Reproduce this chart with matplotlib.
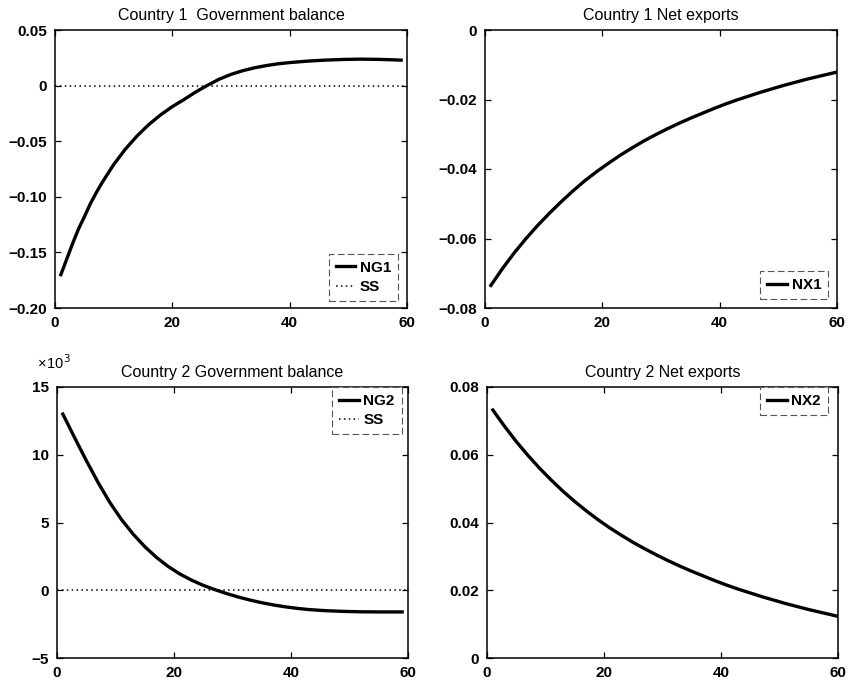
import matplotlib
matplotlib.use("Agg")
import matplotlib.pyplot as plt

plt.rcParams['font.family'] = ['Liberation Sans', 'DejaVu Sans']

# ---- data -------------------------------------------------------------
ng1_periods = [1, 2, 3, 4, 5, 6, 7, 8, 10, 12, 14, 16, 18, 20, 22, 24, 26,
               28, 30, 32, 34, 36, 38, 40, 43, 46, 49, 52, 55, 57, 59]
ng1_values = [-0.170, -0.156, -0.142, -0.129, -0.118, -0.1065, -0.0966,
              -0.0875, -0.0710, -0.0571, -0.0452, -0.0350, -0.0263, -0.0189,
              -0.0125, -0.0057, 0.0003, 0.0058, 0.0101, 0.0134, 0.0160,
              0.0180, 0.0196, 0.0207, 0.0220, 0.0229, 0.0235, 0.0238, 0.0236,
              0.0233, 0.0229]

nx1_periods = [1, 3, 5, 7, 9, 11, 13, 15, 17, 19, 21, 23, 25, 27, 29, 31, 33,
               35, 37, 39, 41, 43, 45, 47, 49, 51, 53, 55, 57, 59, 60]
nx1_values = [-0.0735, -0.0686, -0.0641, -0.0600, -0.0562, -0.0527, -0.0494,
              -0.0463, -0.0434, -0.0408, -0.0384, -0.0361, -0.0340, -0.0320,
              -0.0302, -0.0285, -0.0269, -0.0254, -0.0240, -0.0226, -0.0213,
              -0.0201, -0.0190, -0.0179, -0.0169, -0.0159, -0.0150, -0.0141,
              -0.0133, -0.0125, -0.0121]

ng2_periods = [1, 3, 5, 7, 9, 11, 13, 15, 17, 19, 21, 23, 25, 27, 29, 31, 33,
               35, 37, 39, 41, 43, 46, 49, 52, 55, 59]
ng2_values = [13.0, 11.27, 9.58, 7.97, 6.50, 5.23, 4.15, 3.22, 2.425, 1.755,
              1.20, 0.745, 0.365, 0.04, -0.245, -0.50, -0.725, -0.92, -1.085,
              -1.222, -1.334, -1.424, -1.51, -1.56, -1.59, -1.60, -1.60]

nx2_periods = [1, 3, 5, 7, 9, 11, 13, 15, 17, 19, 21, 23, 25, 27, 29, 31, 33,
               35, 37, 39, 41, 43, 45, 47, 49, 51, 53, 55, 57, 59, 60]
nx2_values = [0.0732, 0.0684, 0.0639, 0.0598, 0.0560, 0.0525, 0.0492, 0.0462,
              0.0434, 0.0408, 0.0384, 0.0362, 0.0341, 0.0322, 0.0304, 0.0287,
              0.0271, 0.0256, 0.0242, 0.0228, 0.0215, 0.0203, 0.0192, 0.0181,
              0.0171, 0.0161, 0.0152, 0.0143, 0.0135, 0.0127, 0.0123]

ss_level = 0.0

x_ticks = [0, 20, 40, 60]
ng1_yticks = [0.05, 0, -0.05, -0.10, -0.15, -0.20]
ng1_ylabels = ['0.05', '0', '\u22120.05', '\u22120.10', '\u22120.15', '\u22120.20']
nx1_yticks = [0, -0.02, -0.04, -0.06, -0.08]
nx1_ylabels = ['0', '\u22120.02', '\u22120.04', '\u22120.06', '\u22120.08']
ng2_yticks = [15, 10, 5, 0, -5]
ng2_ylabels = ['15', '10', '5', '0', '\u22125']
nx2_yticks = [0.08, 0.06, 0.04, 0.02, 0]
nx2_ylabels = ['0.08', '0.06', '0.04', '0.02', '0']

# ---- figure -----------------------------------------------------------
W, H = 848, 683
fig = plt.figure(figsize=(W / 100, H / 100), dpi=100)


def box(left, right, top, bottom):
    return [left / W, 1 - bottom / H, (right - left) / W, (bottom - top) / H]


ax_tl = fig.add_axes(box(55, 407, 30, 308))
ax_tr = fig.add_axes(box(485, 837, 30, 308))
ax_bl = fig.add_axes(box(57, 408, 387, 658))
ax_br = fig.add_axes(box(487, 838, 387, 658))

LW = 2.4
TICK_FONT = dict(fontsize=11, fontweight='bold')


def style(ax, title, yticks, ylabels, ylim):
    ax.set_xlim(0, 60)
    ax.set_ylim(*ylim)
    ax.set_xticks(x_ticks)
    ax.set_xticklabels([str(t) for t in x_ticks], **TICK_FONT)
    ax.set_yticks(yticks)
    ax.set_yticklabels(ylabels, **TICK_FONT)
    ax.tick_params(direction='in', top=True, right=True, length=4,
                   width=0.9, pad=6, colors='black')
    for sp in ax.spines.values():
        sp.set_linewidth(1.1)
    ax.set_title(title, fontsize=11.5, pad=7)


def legend(ax, loc, anchor):
    leg = ax.legend(loc=loc, bbox_to_anchor=anchor, borderaxespad=0,
                    fancybox=False, framealpha=1, handlelength=1.3,
                    handletextpad=0.3, borderpad=0.45, labelspacing=0.35,
                    prop=dict(size=11, weight='bold'))
    fr = leg.get_frame()
    fr.set_edgecolor('#555555')
    fr.set_linewidth(0.8)
    fr.set_linestyle((0, (6, 3)))
    return leg


# Country 1 government balance
ax_tl.plot(ng1_periods, ng1_values, color='black', lw=LW, label='NG1')
ax_tl.axhline(ss_level, color='black', lw=1.1, ls=(0, (1, 2.2)), label='SS')
style(ax_tl, 'Country 1  Government balance', ng1_yticks, ng1_ylabels,
      (-0.20, 0.05))
legend(ax_tl, 'lower right', (0.975, 0.025))

# Country 1 net exports
ax_tr.plot(nx1_periods, nx1_values, color='black', lw=LW, label='NX1')
style(ax_tr, 'Country 1 Net exports', nx1_yticks, nx1_ylabels, (-0.08, 0))
legend(ax_tr, 'lower right', (0.975, 0.032))

# Country 2 government balance
ax_bl.plot(ng2_periods, ng2_values, color='black', lw=LW, label='NG2')
ax_bl.axhline(ss_level, color='black', lw=1.1, ls=(0, (1, 2.2)), label='SS')
style(ax_bl, 'Country 2 Government balance', ng2_yticks, ng2_ylabels, (-5, 15))
legend(ax_bl, 'upper right', (0.982, 1.0))
ax_bl.text(-0.057, 1.089, '\u00d7\u200a10$^{3}$', transform=ax_bl.transAxes,
           fontsize=10.5, ha='left', va='center')

# Country 2 net exports
ax_br.plot(nx2_periods, nx2_values, color='black', lw=LW, label='NX2')
style(ax_br, 'Country 2 Net exports', nx2_yticks, nx2_ylabels, (0, 0.08))
legend(ax_br, 'upper right', (0.971, 1.0))

fig.savefig('out.png', dpi=100, facecolor='white')
